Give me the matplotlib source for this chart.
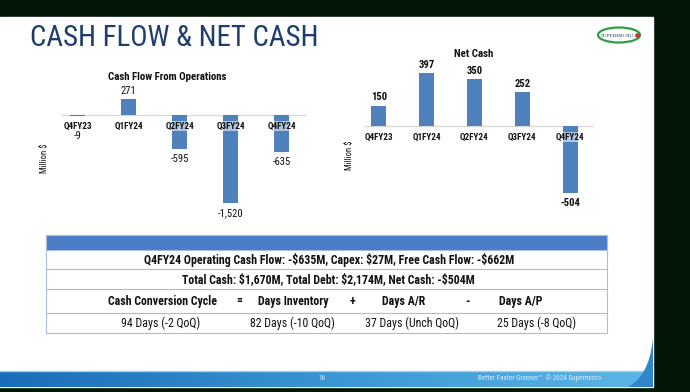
import numpy as np
import matplotlib
matplotlib.use("Agg")
import matplotlib.pyplot as plt
from matplotlib import font_manager
from matplotlib.patches import Rectangle, Ellipse, PathPatch
from matplotlib.path import Path

# ---- data ----
quarters = ["Q4FY23", "Q1FY24", "Q2FY24", "Q3FY24", "Q4FY24"]
cash_flow_ops = [-9, 271, -595, -1520, -635]
net_cash = [150, 397, 350, 252, -504]

title = "CASH FLOW & NET CASH"
cfo_title = "Cash Flow From Operations"
nc_title = "Net Cash"
y_label = "Million $"

summary_rows = [
    "Q4FY24 Operating Cash Flow: -$635M, Capex: $27M, Free Cash Flow: -$662M",
    "Total Cash: $1,670M, Total Debt: $2,174M, Net Cash: -$504M",
]
ccc_header = ["Cash Conversion Cycle", "=", "Days Inventory", "+", "Days A/R", "-", "Days A/P"]
ccc_values = ["94 Days (-2 QoQ)", "82 Days (-10 QoQ)", "37 Days (Unch QoQ)", "25 Days (-8 QoQ)"]

# ---- fonts: look for a narrow sans (Arial Narrow look), else Liberation Sans ----
entries = font_manager.fontManager.ttflist
FAM, STRETCH = "Liberation Sans", "normal"
for name in ["Liberation Sans Narrow", "Roboto Condensed", "Open Sans Condensed",
             "Noto Sans Condensed", "DejaVu Sans Condensed"]:
    if any(f.name == name for f in entries):
        FAM = name
        break
else:
    for name in ["Roboto", "Noto Sans", "DejaVu Sans", "Open Sans"]:
        if any(f.name == name and f.stretch in ("condensed", "semi-condensed") for f in entries):
            FAM, STRETCH = name, "condensed"
            break
plt.rcParams["font.family"] = [FAM, "DejaVu Sans"]
plt.rcParams["font.stretch"] = STRETCH

W, H = 690, 392
BAR = "#4F81BD"
NAVY = "#1F3C6E"
INK = "#111111"

fig = plt.figure(figsize=(W / 100, H / 100), dpi=100)
fig.patch.set_facecolor("#021605")
renderer = fig.canvas.get_renderer()


def rect(x0, y0, x1, y1):
    # pixel box (top-left origin) -> figure fraction
    return [x0 / W, 1 - y1 / H, (x1 - x0) / W, (y1 - y0) / H]


def fit(t, width):
    # rescale a text so that it spans `width` pixels (the reference uses a narrow face)
    w = t.get_window_extent(renderer).width
    t.set_fontsize(t.get_fontsize() * width / w)
    return t.get_fontsize()


# background "slide" axes in pixel coords
bg = fig.add_axes([0, 0, 1, 1], zorder=0)
bg.set_xlim(0, W)
bg.set_ylim(H, 0)
bg.axis("off")
bg.add_patch(Rectangle((0, 17), 653, 370, color="white"))

# footer gradient bar
grad = np.linspace(0, 1, 256).reshape(1, -1)
cmap = matplotlib.colors.LinearSegmentedColormap.from_list("ft", ["#1A6DB8", "#3A95D4", "#5DB6E6"])
bg.imshow(grad, extent=(0, 653, 387, 371), aspect="auto", cmap=cmap, zorder=1)
bg.plot([0, 653], [370.5, 370.5], color="#9ED3F0", lw=1, zorder=2)
sw = Path([(653, 338), (650, 368), (640, 380), (628, 387), (653, 387), (653, 338)],
          [Path.MOVETO, Path.CURVE4, Path.CURVE4, Path.CURVE4, Path.LINETO, Path.CLOSEPOLY])
bg.add_patch(PathPatch(sw, facecolor="#2F86C9", edgecolor="none", zorder=3))
bg.text(322, 378.5, "16", color="#DCEEFA", fontsize=5.2, ha="center", va="center", zorder=4)
ft = bg.text(478, 378.5, "Better Faster Greener\u2122  \u00a9 2024 Supermicro", color="#DCEEFA",
             fontsize=4.5, ha="left", va="center", zorder=4)
fit(ft, 122)

# title + logo
t = bg.text(30, 38, title, color=NAVY, fontsize=20, ha="left", va="center")
fit(t, 288)
bg.add_patch(Ellipse((619, 35), 42, 15, facecolor="white", edgecolor="#2E9E45", lw=1.6))
lg = bg.text(617, 35.5, "SUPERMICRO", fontsize=3.8, family="Liberation Serif", color="#1F3C6E",
             ha="center", va="center")
fit(lg, 33)
bg.add_patch(Ellipse((637.5, 35.5), 3.2, 3.2, color="#D0302B"))

# ---- table ----
TX0, TX1 = 45.5, 607
line_c = "#A9BCDC"
bg.add_patch(Rectangle((TX0, 235), TX1 - TX0, 15, facecolor="#4A7CC7", edgecolor=line_c, lw=0.8))
bg.add_patch(Rectangle((TX0, 235), TX1 - TX0, 98, facecolor="none", edgecolor=line_c, lw=0.8))
for yl in [269, 289, 313]:
    bg.plot([TX0, TX1], [yl, yl], color=line_c, lw=0.8)
r1 = bg.text(329, 260, summary_rows[0], fontsize=8.2, fontweight="bold", ha="center", va="center", color=INK)
tfs = fit(r1, 372)
bg.text(328, 279.5, summary_rows[1], fontsize=tfs, fontweight="bold", ha="center", va="center", color=INK)
hdr_x = [163, 239, 293, 352, 404, 467, 521]
for txt, xx in zip(ccc_header, hdr_x):
    bg.text(xx, 301, txt, fontsize=tfs, fontweight="bold", ha="center", va="center", color=INK)
val_x = [161, 292, 412, 537]
for txt, xx in zip(ccc_values, val_x):
    bg.text(xx, 323.5, txt, fontsize=tfs, ha="center", va="center", color=INK)

# relative size of the small chart texts
k = tfs / 8.2


def fmt(v):
    return f"{v:,}"


def bar_chart(box, values, ylim, label_bold):
    ax = fig.add_axes(rect(*box), zorder=2)
    ax.patch.set_alpha(0)
    x = np.arange(len(quarters))
    ax.bar(x, values, width=0.31, color=BAR, zorder=2)
    ax.set_xlim(-0.5, len(quarters) - 0.5)
    ax.set_ylim(*ylim)
    ax.axhline(0, xmin=0.04, xmax=1, color="#D9D9D9", lw=1, zorder=1)
    for s in ax.spines.values():
        s.set_visible(False)
    ax.set_xticks([])
    ax.set_yticks([])
    pxu = (box[3] - box[1]) / (ylim[1] - ylim[0])  # pixels per data unit
    for i, (q, v) in enumerate(zip(quarters, values)):
        ax.annotate(q, (i, 0), xytext=(0, -11), textcoords="offset pixels", ha="center",
                    va="center", fontsize=6.3 * k, fontweight="bold", color=INK, zorder=4,
                    bbox=dict(boxstyle="square,pad=0.05", fc="white", ec="none", alpha=0.55))
        if v >= 0:
            off = 8.5
        else:
            off = -max(10, 21 - abs(v) * pxu)
        ax.annotate(fmt(v), (i, v), xytext=(0, off), textcoords="offset pixels", ha="center",
                    va="center", fontsize=7.3 * k, fontweight="bold" if label_bold else "normal",
                    color=INK, zorder=4)
    return ax


# left chart: zero at y=115, -1520 bottom at y=203
left_scale = 88 / 1520
ax1 = bar_chart((52, 85, 307, 215), cash_flow_ops,
                (-(215 - 115) / left_scale, (115 - 85) / left_scale), False)
ct = bg.text(167, 77, cfo_title, fontsize=7.3, fontweight="bold", ha="center", va="center", color=INK)
fit(ct, 119)
bg.text(45, 158, y_label, fontsize=6 * k, rotation=90, ha="center", va="center", color=INK)

# right chart: zero at y=126, 150 -> 20 px
right_scale = 20 / 150
ax2 = bar_chart((355, 60, 594, 205), net_cash,
                (-(205 - 126) / right_scale, (126 - 60) / right_scale), True)
bg.text(474, 54, nc_title, fontsize=ct.get_fontsize(), fontweight="bold", ha="center", va="center", color=INK)
bg.text(350, 155, y_label, fontsize=6 * k, rotation=90, ha="center", va="center", color=INK)

fig.savefig("out.png", dpi=100, facecolor=fig.get_facecolor())
